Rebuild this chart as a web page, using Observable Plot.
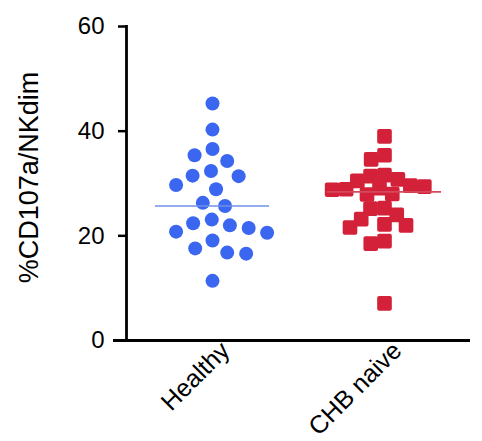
<!DOCTYPE html>
<html>
<head>
<meta charset="utf-8">
<script src="https://cdn.jsdelivr.net/npm/d3@7"></script>
<script src="https://cdn.jsdelivr.net/npm/@observablehq/plot@0.6"></script>
<style>
  html, body { margin: 0; padding: 0; background: #fff; }
  #chart svg { display: block; }
</style>
</head>
<body>
<div id="chart"></div>
<script>
// Groups along the x axis
const groups = ["Healthy", "CHB naive"];

// %CD107a+ of NKdim cells, one value per donor
const healthy = [45.3, 40.3, 36.6, 35.4, 34.3, 32.4, 31.5, 31.4, 29.7, 28.9, 26.3, 25.7,
                 23.1, 22.4, 22.0, 21.5, 20.8, 20.6, 19.1, 17.6, 16.8, 16.6, 11.4];
const chbNaive = [39.0, 35.4, 34.6, 31.6, 31.4, 30.8, 30.5, 29.6, 29.4, 29.1, 28.9, 28.8,
                  28.0, 27.9, 25.3, 25.2, 24.0, 23.2, 22.2, 22.0, 21.6, 19.0, 18.5, 7.1];

// Y axis ticks
const yTicks = [0, 20, 40, 60];
const yLabel = "%CD107a/NKdim";

// Drawing style per group
const styles = {
  "Healthy":   {symbol: "circle", r: 7, pad: 5, fill: "#3b66f0", strokeWidth: 0, line: "#6f92ea"},
  "CHB naive": {symbol: "square", r: 6, pad: 2, fill: "#d4213a", strokeWidth: 4, line: "#d5495c"}
};

const seriesValues = {"Healthy": healthy, "CHB naive": chbNaive};

const font = "'Liberation Sans', Arial, Helvetica, sans-serif";

const marks = [];

for (const g of groups) {
  const s = styles[g];
  const rows = seriesValues[g].map(v => ({group: g, value: v}));
  // points, spread sideways so they do not pile up
  marks.push(Plot.dot(rows, Plot.dodgeX({anchor: "middle", padding: s.pad}, {
    fx: "group",
    y: "value",
    r: s.r,
    symbol: s.symbol,
    fill: s.fill,
    stroke: s.fill,
    strokeWidth: s.strokeWidth,
    strokeLinejoin: "round"
  })));
  // median line
  marks.push(Plot.ruleY([{group: g, value: d3.median(rows, d => d.value)}], {
    fx: "group",
    y: "value",
    insetLeft: 29,
    insetRight: 29,
    stroke: s.line,
    strokeWidth: 1.6
  }));
}

// y axis: ticks, labels and the vertical line
marks.push(Plot.axisY({
  ticks: yTicks,
  tickSize: 8,
  tickPadding: 14,
  fontSize: 24,
  strokeWidth: 2.5,
  label: null
}));
marks.push(Plot.frame({anchor: "left", facetAnchor: "left", strokeWidth: 2.8}));

// baseline at zero, running a little past the y axis
marks.push(Plot.ruleY([0], {insetLeft: -13, strokeWidth: 2.8}));

// y axis title
marks.push(Plot.text([{group: groups[0], label: yLabel}], {
  fx: "group",
  text: "label",
  frameAnchor: "left",
  textAnchor: "middle",
  rotate: -90,
  dx: -97,
  dy: -6,
  fontSize: 27,
  fill: "#000"
}));

// group labels
marks.push(Plot.axisFx({
  anchor: "bottom",
  tickRotate: -45,
  tickSize: 0,
  tickPadding: 8,
  dx: 13,
  dy: -2,
  fontSize: 25,
  label: null
}));

const chart = Plot.plot({
  width: 482,
  height: 441,
  marginLeft: 125,
  marginRight: 12,
  marginTop: 26,
  marginBottom: 101,
  style: {fontFamily: font, color: "#000", background: "#fff"},
  fx: {domain: groups, padding: 0},
  y: {domain: [0, 60]},
  marks
});

document.getElementById("chart").appendChild(chart);
</script>
</body>
</html>
